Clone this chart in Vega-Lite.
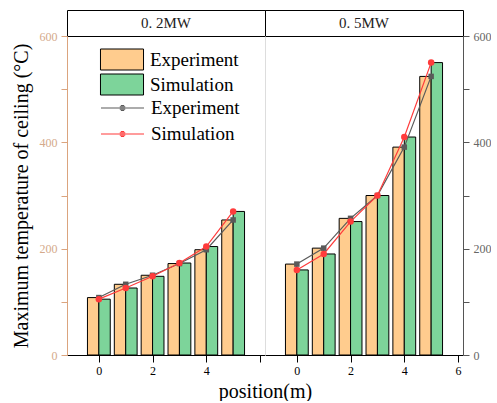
{
  "$schema": "https://vega.github.io/schema/vega-lite/v6.json",
  "padding": {"left": 11, "top": 9, "right": 0, "bottom": 0},
  "autosize": {"type": "pad"},
  "background": "white",
  "bounds": "flush",
  "spacing": 0,
  "columns": 2,
  "config": {
    "view": {"stroke": null},
    "font": "Liberation Serif",
    "axis": {"grid": false, "labelFont": "Liberation Serif", "titleFont": "Liberation Serif", "titleFontWeight": "normal"},
    "legend": {"labelFont": "Liberation Serif", "labelFontSize": 19, "labelColor": "black", "padding": 0}
  },
  "datasets": {
    "p02": [
      {"pos": 0, "Experiment": 108, "Simulation": 105},
      {"pos": 1, "Experiment": 133, "Simulation": 126},
      {"pos": 2, "Experiment": 150, "Simulation": 148},
      {"pos": 3, "Experiment": 172, "Simulation": 173},
      {"pos": 4, "Experiment": 198, "Simulation": 204},
      {"pos": 5, "Experiment": 254, "Simulation": 270}
    ],
    "p05": [
      {"pos": 0, "Experiment": 171, "Simulation": 160},
      {"pos": 1, "Experiment": 201, "Simulation": 190},
      {"pos": 2, "Experiment": 257, "Simulation": 251},
      {"pos": 3, "Experiment": 300, "Simulation": 300},
      {"pos": 4, "Experiment": 391, "Simulation": 410},
      {"pos": 5, "Experiment": 524, "Simulation": 550}
    ]
  },
  "concat": [
    {
      "width": 198, "height": 26,
      "view": {"stroke": "black", "strokeWidth": 1},
      "data": {"values": [{"t": "0. 2MW"}]},
      "mark": {"type": "text", "font": "Liberation Serif", "fontSize": 15, "color": "#222"},
      "encoding": {"text": {"field": "t", "type": "nominal"}}
    },
    {
      "width": 198, "height": 26,
      "view": {"stroke": "black", "strokeWidth": 1},
      "data": {"values": [{"t": "0. 5MW"}]},
      "mark": {"type": "text", "font": "Liberation Serif", "fontSize": 15, "color": "#222"},
      "encoding": {"text": {"field": "t", "type": "nominal"}}
    },
    {
      "width": 198, "height": 319,
      "data": {"name": "p02"},
      "layer": [
        {
          "mark": {"type": "bar", "width": 11.4, "xOffset": -5.7, "stroke": "black", "strokeWidth": 1},
          "encoding": {
            "x": {"field": "pos", "type": "quantitative", "scale": {"domain": [-1, 6], "nice": false, "zero": false},
              "axis": {"values": [0, 2, 4, 6], "labelExpr": "datum.value === 6 ? '' : datum.label", "labelFlush": false, "domainColor": "black", "tickColor": "black", "tickSize": 7, "labelColor": "black", "labelFontSize": 12, "labelPadding": 3, "title": "position(m)", "titleX": 198, "titleFontSize": 20, "titleColor": "black", "titlePadding": 5}},
            "y": {"field": "Experiment", "type": "quantitative", "scale": {"domain": [0, 600], "nice": false},
              "axis": {"values": [0, 100, 200, 300, 400, 500, 600], "labelExpr": "datum.value % 200 === 0 ? datum.label : ''", "tickSize": 6, "domainColor": "#dba47e", "tickColor": "#dba47e", "labelColor": "#d4a98a", "labelFontSize": 12, "labelPadding": 4, "title": "Maximum temperature of ceiling (°C)", "titleFontSize": 20, "titleColor": "black", "titlePadding": 8}},
            "fill": {"datum": "Experiment", "scale": {"domain": ["Experiment", "Simulation"], "range": ["#ffcc8e", "#7dd49a"]},
              "legend": {"orient": "none", "legendX": 44, "legendY": 38.5, "title": null, "symbolType": "M-2.05,-1H2.05V1H-2.05Z", "symbolSize": 441, "symbolStrokeColor": "black", "symbolStrokeWidth": 1, "rowPadding": -1, "labelOffset": 17}}
          }
        },
        {
          "mark": {"type": "bar", "width": 11.4, "xOffset": 5.7, "stroke": "black", "strokeWidth": 1},
          "encoding": {
            "x": {"field": "pos", "type": "quantitative", "scale": {"domain": [-1, 6], "nice": false, "zero": false}},
            "y": {"field": "Simulation", "type": "quantitative", "scale": {"domain": [0, 600], "nice": false}},
            "fill": {"datum": "Simulation", "scale": {"domain": ["Experiment", "Simulation"], "range": ["#ffcc8e", "#7dd49a"]}, "legend": null}
          }
        },
        {
          "transform": [{"fold": ["Experiment", "Simulation"], "as": ["line", "temp"]}],
          "mark": {"type": "line", "strokeWidth": 1.2},
          "encoding": {
            "x": {"field": "pos", "type": "quantitative", "scale": {"domain": [-1, 6], "nice": false, "zero": false}},
            "y": {"field": "temp", "type": "quantitative", "scale": {"domain": [0, 600], "nice": false}},
            "color": {"field": "line", "type": "nominal", "scale": {"range": ["#5a5a5a", "#ff3b3b"]},
              "legend": {"orient": "none", "legendX": 44, "legendY": 86.5, "title": null, "symbolSize": 441, "symbolStrokeWidth": 1.2, "rowPadding": 4, "labelOffset": 17,
                "symbolType": "M-2.05,0H2.05M-0.16,-0.24H0.16M-0.26,-0.12H0.26M-0.28,0H0.28M-0.26,0.12H0.26M-0.16,0.24H0.16"}}
          }
        },
        {
          "transform": [{"fold": ["Experiment", "Simulation"], "as": ["line", "temp"]}],
          "mark": {"type": "point", "filled": true, "opacity": 1, "size": 42, "strokeWidth": 0},
          "encoding": {
            "x": {"field": "pos", "type": "quantitative", "scale": {"domain": [-1, 6], "nice": false, "zero": false}},
            "y": {"field": "temp", "type": "quantitative", "scale": {"domain": [0, 600], "nice": false}},
            "color": {"field": "line", "type": "nominal", "scale": {"range": ["#4a4a4a", "#ff3b3b"]}, "legend": null},
            "shape": {"field": "line", "type": "nominal", "scale": {"range": ["M-0.85,-0.85H0.85V0.85H-0.85Z", "circle"]}, "legend": null}
          }
        }
      ]
    },
    {
      "width": 198, "height": 319,
      "data": {"name": "p05"},
      "resolve": {"axis": {"y": "independent"}},
      "layer": [
        {
          "layer": [
            {
              "mark": {"type": "bar", "width": 11.4, "xOffset": -5.7, "stroke": "black", "strokeWidth": 1},
              "encoding": {
                "x": {"field": "pos", "type": "quantitative", "scale": {"domain": [-1, 6], "nice": false, "zero": false},
                  "axis": {"values": [0, 2, 4, 6], "labelFlush": false, "domainColor": "black", "tickColor": "black", "tickSize": 7, "labelColor": "black", "labelFontSize": 12, "labelPadding": 3, "title": null}},
                "y": {"field": "Experiment", "type": "quantitative", "scale": {"domain": [0, 600], "nice": false},
                  "axis": {"orient": "right", "values": [0, 100, 200, 300, 400, 500, 600], "labelExpr": "datum.value % 200 === 0 ? datum.label : ''", "tickSize": 6, "domainColor": "#555555", "tickColor": "#555555", "labelColor": "#666666", "labelFontSize": 12, "labelPadding": 4, "title": null}},
                "fill": {"datum": "Experiment", "scale": {"domain": ["Experiment", "Simulation"], "range": ["#ffcc8e", "#7dd49a"]}, "legend": null}
              }
            },
            {
              "mark": {"type": "bar", "width": 11.4, "xOffset": 5.7, "stroke": "black", "strokeWidth": 1},
              "encoding": {
                "x": {"field": "pos", "type": "quantitative", "scale": {"domain": [-1, 6], "nice": false, "zero": false}},
                "y": {"field": "Simulation", "type": "quantitative", "scale": {"domain": [0, 600], "nice": false}},
                "fill": {"datum": "Simulation", "scale": {"domain": ["Experiment", "Simulation"], "range": ["#ffcc8e", "#7dd49a"]}, "legend": null}
              }
            }
          ]
        },
        {
          "layer": [
            {
              "transform": [{"fold": ["Experiment", "Simulation"], "as": ["line", "temp"]}],
              "mark": {"type": "line", "strokeWidth": 1.2},
              "encoding": {
                "x": {"field": "pos", "type": "quantitative", "scale": {"domain": [-1, 6], "nice": false, "zero": false}},
                "y": {"field": "temp", "type": "quantitative", "scale": {"domain": [0, 600], "nice": false},
                  "axis": {"orient": "left", "domainColor": "#dddddd", "ticks": false, "labels": false, "title": null}},
                "color": {"field": "line", "type": "nominal", "scale": {"range": ["#5a5a5a", "#ff3b3b"]}, "legend": null}
              }
            },
            {
              "transform": [{"fold": ["Experiment", "Simulation"], "as": ["line", "temp"]}],
              "mark": {"type": "point", "filled": true, "opacity": 1, "size": 42, "strokeWidth": 0},
              "encoding": {
                "x": {"field": "pos", "type": "quantitative", "scale": {"domain": [-1, 6], "nice": false, "zero": false}},
                "y": {"field": "temp", "type": "quantitative", "scale": {"domain": [0, 600], "nice": false}},
                "color": {"field": "line", "type": "nominal", "scale": {"range": ["#4a4a4a", "#ff3b3b"]}, "legend": null},
                "shape": {"field": "line", "type": "nominal", "scale": {"range": ["M-0.85,-0.85H0.85V0.85H-0.85Z", "circle"]}, "legend": null}
              }
            }
          ]
        }
      ]
    }
  ]
}
